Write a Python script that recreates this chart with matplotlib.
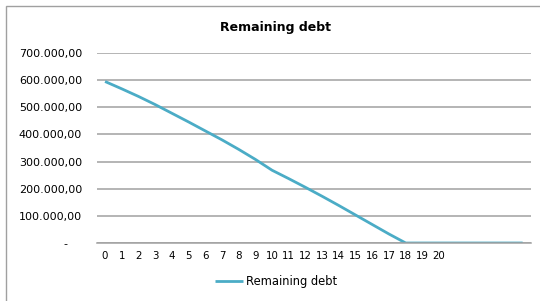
import matplotlib
matplotlib.use("Agg")
import matplotlib.pyplot as plt
from matplotlib.patches import Rectangle

# remaining debt per period
periods = list(range(26))
debt = [595000, 568000, 540000, 510000, 478000, 446000, 413000, 380000,
        345000, 308000, 268000, 237000, 205000, 172000, 138000, 103000,
        68000, 33000, 0, 0, 0, 0, 0, 0, 0, 0]
x_labels = [str(i) for i in range(21)] + [""] * 5
y_ticks = [0, 100000, 200000, 300000, 400000, 500000, 600000, 700000]
y_labels = ["-    ", "100.000,00", "200.000,00", "300.000,00", "400.000,00",
            "500.000,00", "600.000,00", "700.000,00"]

LINE = "#4bacc6"
GRID = "#a0a0a0"

fig = plt.figure(figsize=(5.4, 3.01), dpi=100)
ax = fig.add_axes([96.7 / 540, 1 - 243 / 301, (531 - 96.7) / 540, 190 / 301])

ax.plot(periods, debt, color=LINE, lw=2, label="Remaining debt",
        solid_capstyle="butt")
ax.set_xlim(-0.5, len(periods) - 0.5)
ax.set_ylim(0, 700000)
ax.set_yticks(y_ticks)
ax.set_yticklabels(y_labels)
ax.set_xticks(periods)
ax.set_xticklabels(x_labels)
ax.tick_params(axis="y", length=0, pad=10.5, labelsize=8, colors="#000000")
ax.tick_params(axis="x", length=0, pad=6, labelsize=7.4, colors="#000000")
ax.yaxis.grid(True, color=GRID, lw=1.1)
ax.set_axisbelow(True)
for s in ("left", "right", "top"):
    ax.spines[s].set_visible(False)
ax.spines["bottom"].set_color(GRID)
ax.spines["bottom"].set_linewidth(1.1)

fig.text(276 / 540, 1 - 27 / 301, "Remaining debt", ha="center", va="center",
         fontsize=9, fontweight="bold")

fig.legend(loc="center", bbox_to_anchor=(276 / 540, 1 - 282 / 301),
           frameon=False, fontsize=8.3, handlelength=2.5, handletextpad=0.25)

# chart border (only left and top edges are visible in the crop)
fig.patches.append(Rectangle((6 / 540, -0.1), 1.0, 1 - 5.5 / 301 + 0.1,
                             transform=fig.transFigure, fill=False,
                             edgecolor="#a0a0a0", lw=1))

fig.savefig("out.png", dpi=100)
